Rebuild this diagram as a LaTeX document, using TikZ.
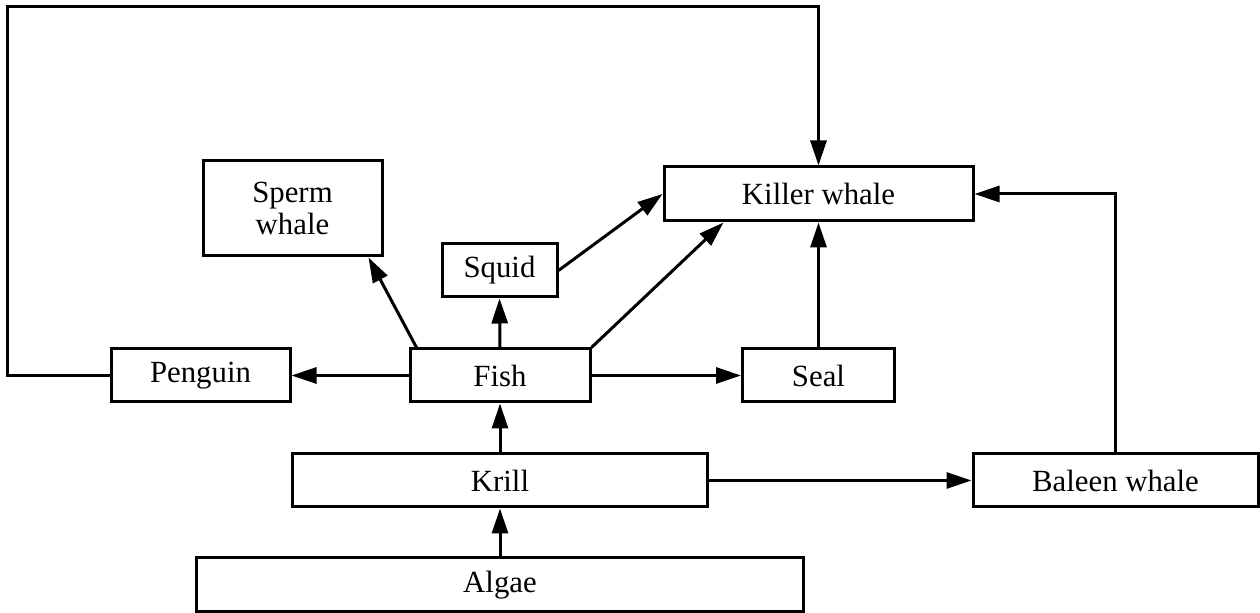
\documentclass[tikz,border=0pt]{standalone}
\usepackage{fontspec}
\setmainfont{Liberation Serif}
\usetikzlibrary{arrows.meta,calc}
\begin{document}
\begin{tikzpicture}[x=0.5pt,y=-0.5pt,
  box/.style={draw=black, line width=1.5pt, inner sep=0pt, font=\fontsize{15.4}{16}\selectfont, align=center},
  arr/.style={draw=black, line width=1.5pt, line join=miter, -{Triangle[length=12.5pt,width=8pt]}}]
\useasboundingbox (0,0) rectangle (1260,613);
\node[box, minimum width=154.5pt, minimum height=27pt] (killer) at (818.5,194) {Killer whale};
\node[box, minimum width=89.5pt, minimum height=47.5pt] (sperm) at (292.5,208.5) {Sperm\\whale};
\node[box, minimum width=57.5pt, minimum height=26.5pt] (squid) at (499.5,270.5) {Squid};
\node[box, minimum width=89.5pt, minimum height=26.5pt] (penguin) at (200.5,375.5) {Penguin};
\node[box, minimum width=90pt, minimum height=26.5pt] (fish) at (500,375.5) {Fish};
\node[box, minimum width=76pt, minimum height=26.5pt] (seal) at (818.5,375.5) {Seal};
\node[box, minimum width=207.5pt, minimum height=26.5pt] (krill) at (500,480.5) {Krill};
\node[box, minimum width=142.5pt, minimum height=26.5pt] (baleen) at (1115.5,480.5) {Baleen whale};
\node[box, minimum width=303.5pt, minimum height=27pt] (algae) at (500,585) {Algae};
\coordinate (cl) at (7,375.5);
\coordinate (ctl) at (7,7);
\coordinate (ctr) at (818.5,7);
\draw[arr] (penguin.west) -- (cl) -- (ctl) -- (ctr) -- (killer.north);
\draw[arr] (baleen.north) |- (killer.east);
\draw[arr] (seal.north) -- (killer.south);
\draw[arr] (fish.east) -- (seal.west);
\draw[arr] (fish.west) -- (penguin.east);
\draw[arr] (fish.north) -- (squid.south);
\draw[arr] ($(fish.north west)+(8,0)$) -- ($(sperm.south east)+(-15,0)$);
\draw[arr] (fish.north east) -- ($(killer.south west)+(61,0)$);
\draw[arr] (squid.east) -- (killer.west);
\draw[arr] (krill.north) -- (fish.south);
\draw[arr] (krill.east) -- (baleen.west);
\draw[arr] (algae.north) -- (krill.south);
\end{tikzpicture}
\end{document}
